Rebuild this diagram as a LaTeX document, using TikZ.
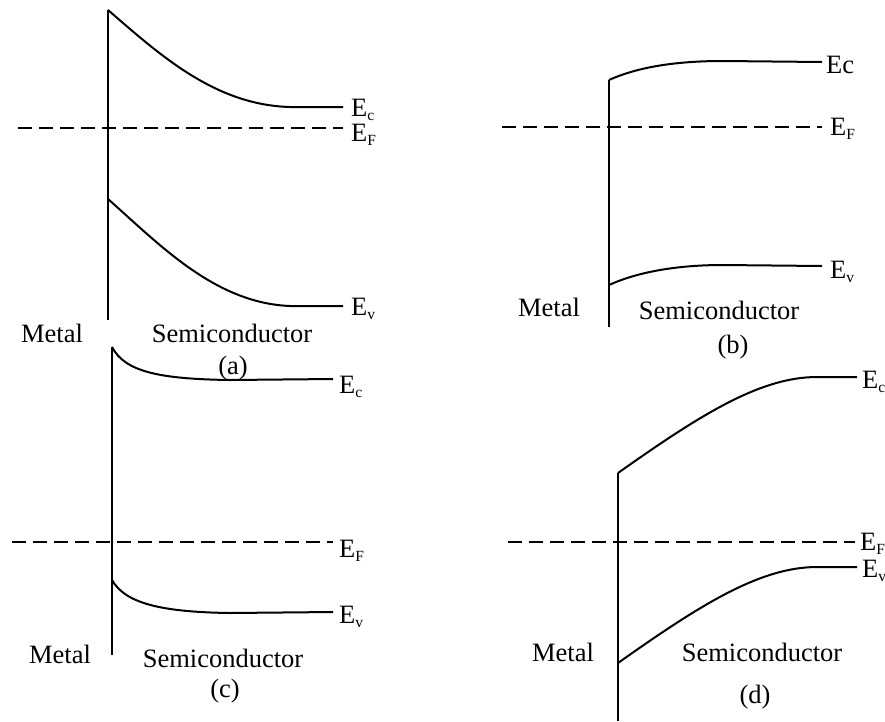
\documentclass[tikz,border=0pt]{standalone}
\usepackage{fontspec}
\setmainfont{Liberation Serif}
\newcommand{\levelsub}[2]{#1\raisebox{-4pt}{\fontsize{15.5}{18}\selectfont #2}}

\begin{document}
\begin{tikzpicture}[x=1pt,y=-1pt, every node/.style={font=\fontsize{26.5}{31}\selectfont,inner sep=0pt},
  band/.style={line width=2pt},
  fermi/.style={line width=2pt,dash pattern=on 14pt off 7pt},
  lvl/.style={anchor=base west}]
\useasboundingbox (0,0) rectangle (885,721);

\draw[band] (108,10) -- (108,320);
\draw[band] (108,10) .. controls (160,55) and (215,105) .. (290,107) -- (343,107) coordinate (aEc);
\draw[fermi] (18,128) -- (343,128) coordinate (aEF);
\draw[band] (108,199) .. controls (160,245) and (215,303) .. (290,306) -- (343,306) coordinate (aEv);
\node[lvl,xshift=8pt,yshift=-9pt] (aEcL) at (aEc) {\levelsub{E}{c}};
\node[lvl,xshift=8pt,yshift=-13pt] (aEFL) at (aEF) {\levelsub{E}{F}};
\node[lvl,xshift=8pt,yshift=-9pt] (aEvL) at (aEv) {\levelsub{E}{v}};
\node (aMetal) at (52,333) {Metal};
\node (aSemi) at (232,333) {Semiconductor};
\node (aCap) at (233,368) {(a)};

\draw[band] (609,80) -- (609,327);
\draw[band] (609,80) .. controls (640,66) and (680,61) .. (723,61) -- (822,62) coordinate (bEc);
\draw[fermi] (502,127) -- (822,127) coordinate (bEF);
\draw[band] (609,285) .. controls (640,271) and (680,265) .. (723,265) -- (822,266) coordinate (bEv);
\node[lvl,xshift=4pt,yshift=-11pt] (bEcL) at (bEc) {Ec};
\node[lvl,xshift=8pt,yshift=-8pt] (bEFL) at (bEF) {\levelsub{E}{F}};
\node[lvl,xshift=8pt,yshift=-12pt] (bEvL) at (bEv) {\levelsub{E}{v}};
\node (bMetal) at (549,307) {Metal};
\node (bSemi) at (719,310) {Semiconductor};
\node (bCap) at (733,347) {(b)};

\draw[band] (112,347) -- (112,655);
\draw[band] (112,347) .. controls (125,372) and (160,379) .. (230,380) -- (333,379) coordinate (cEc);
\draw[fermi] (12,542) -- (333,542) coordinate (cEF);
\draw[band] (112,580) .. controls (125,603) and (160,612) .. (230,613) -- (333,612) coordinate (cEv);
\node[lvl,xshift=6pt,yshift=-14pt] (cEcL) at (cEc) {\levelsub{E}{c}};
\node[lvl,xshift=6pt,yshift=-15pt] (cEFL) at (cEF) {\levelsub{E}{F}};
\node[lvl,xshift=6pt,yshift=-11pt] (cEvL) at (cEv) {\levelsub{E}{v}};
\node (cMetal) at (60,654) {Metal};
\node (cSemi) at (223,658) {Semiconductor};
\node (cCap) at (225,691) {(c)};

\draw[band] (618,473) -- (618,721);
\draw[band] (618,473) .. controls (700,415) and (760,377) .. (817,377) -- (857,377) coordinate (dEc);
\draw[fermi] (508,542) -- (855,542) coordinate (dEF);
\draw[band] (618,663) .. controls (700,605) and (760,567) .. (817,567) -- (857,567) coordinate (dEv);
\node[lvl,xshift=5pt,yshift=-11pt] (dEcL) at (dEc) {\levelsub{E}{c}};
\node[lvl,xshift=5pt,yshift=-8pt] (dEFL) at (dEF) {\levelsub{E}{F}};
\node[lvl,xshift=5pt,yshift=-10pt] (dEvL) at (dEv) {\levelsub{E}{v}};
\node (dMetal) at (563,652) {Metal};
\node (dSemi) at (762,652) {Semiconductor};
\node (dCap) at (755,697) {(d)};
\end{tikzpicture}
\end{document}
